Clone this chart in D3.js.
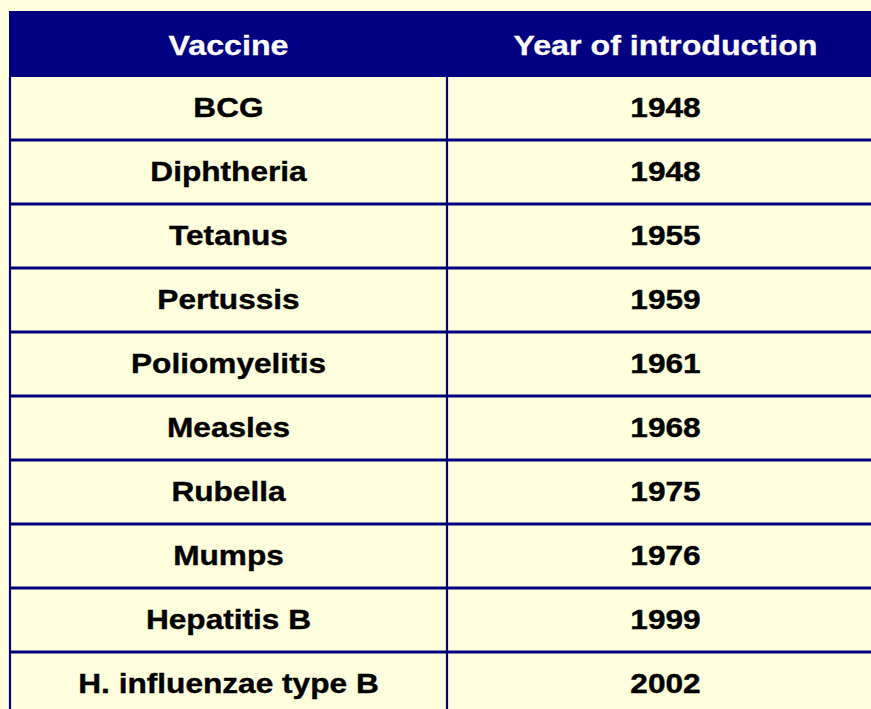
<!DOCTYPE html>
<html>
<head>
<meta charset="utf-8">
<script src="https://cdn.jsdelivr.net/npm/d3@7"></script>
<style>
  html, body { margin: 0; padding: 0; background: #FFFFDD; overflow: hidden; }
  text { font-family: "Liberation Sans", Arial, sans-serif; font-weight: bold; }
</style>
</head>
<body>
<script>
const WIDTH  = 871;
const HEIGHT = 709;

const headers  = ["Vaccine", "Year of introduction"];
const vaccines = ["BCG", "Diphtheria", "Tetanus", "Pertussis", "Poliomyelitis",
                  "Measles", "Rubella", "Mumps", "Hepatitis B", "H. influenzae type B"];
const years    = ["1948", "1948", "1955", "1959", "1961",
                  "1968", "1975", "1976", "1999", "2002"];

const NAVY = "#000080";
const STRETCH = 1.13;   // the source text is a bit wider than plain Arial

const svg = d3.select("body").append("svg")
    .attr("width", WIDTH)
    .attr("height", HEIGHT);

// columns run past the right edge of the picture
const xScale = d3.scaleBand().domain([0, 1]).range([10, 884]);
const yScale = d3.scaleBand().domain(d3.range(vaccines.length)).range([76, 716]);

// header bar
svg.append("rect")
    .attr("x", 9)
    .attr("y", 11)
    .attr("width", WIDTH)
    .attr("height", 66)
    .attr("fill", NAVY);

svg.selectAll("text.head")
  .data(headers)
  .enter().append("text")
    .attr("class", "head")
    .attr("text-anchor", "middle")
    .attr("transform", (d, i) => `translate(${xScale(i) + xScale.bandwidth() / 2},55) scale(1.15,1)`)
    .attr("fill", "#ffffff")
    .attr("stroke", "#ffffff")
    .attr("stroke-width", 0.3)
    .style("font-size", "28px")
    .text(d => d);

// horizontal row lines
svg.selectAll("line.row")
  .data(d3.range(vaccines.length - 1))
  .enter().append("line")
    .attr("class", "row")
    .attr("x1", 10)
    .attr("x2", WIDTH)
    .attr("y1", i => yScale(i) + yScale.bandwidth())
    .attr("y2", i => yScale(i) + yScale.bandwidth())
    .attr("stroke", NAVY)
    .attr("stroke-width", 2.8);

// vertical lines: left border and column divider
svg.selectAll("line.col")
  .data([0, 1])
  .enter().append("line")
    .attr("class", "col")
    .attr("x1", i => xScale(i))
    .attr("x2", i => xScale(i))
    .attr("y1", 77)
    .attr("y2", HEIGHT)
    .attr("stroke", NAVY)
    .attr("stroke-width", 2.2);

// cells
const rows = vaccines.map((v, i) => [v, years[i]]);

const rowG = svg.selectAll("g.row")
  .data(rows)
  .enter().append("g")
    .attr("class", "row")
    .attr("transform", (d, i) => `translate(0,${yScale(i) + 41})`);

rowG.selectAll("text")
  .data(d => d)
  .enter().append("text")
    .attr("text-anchor", "middle")
    .attr("transform", (d, i) => `translate(${xScale(i) + xScale.bandwidth() / 2},0) scale(${STRETCH},1)`)
    .attr("fill", "#000000")
    .attr("stroke", "#000000")
    .attr("stroke-width", 0.4)
    .style("font-size", "28px")
    .text(d => d);
</script>
</body>
</html>
